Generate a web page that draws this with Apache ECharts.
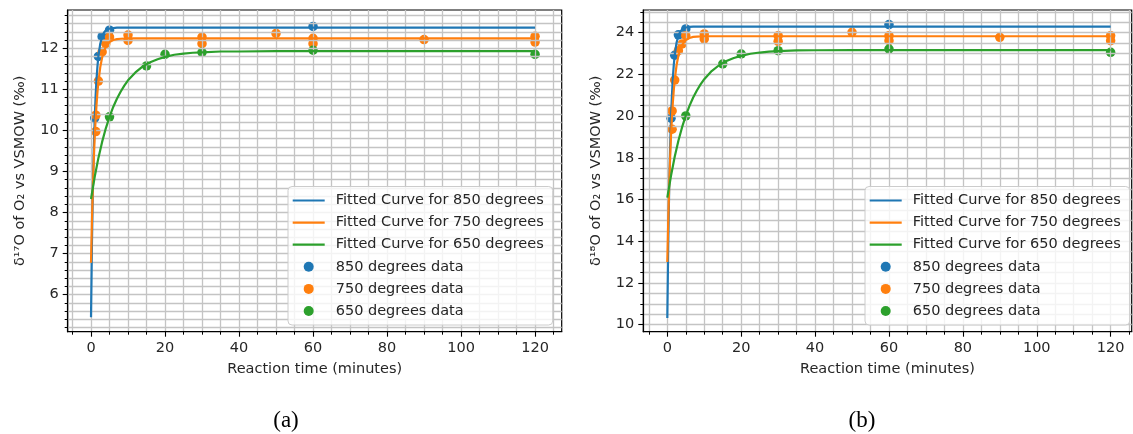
<!DOCTYPE html>
<html>
<head>
<meta charset="utf-8">
<script src="https://cdn.jsdelivr.net/npm/echarts@6/dist/echarts.min.js"></script>
<style>
html,body{margin:0;padding:0;background:#fff;}
#chart{width:1133px;height:434px;}
</style>
</head>
<body>
<div id="chart"></div>
<script>
// ---------- data ----------
const xTicks = [0, 20, 40, 60, 80, 100, 120];
const yTicksA = [6, 7, 8, 9, 10, 11, 12];
const yTicksB = [10, 12, 14, 16, 18, 20, 22, 24];
const names = ['Fitted Curve for 850 degrees', 'Fitted Curve for 750 degrees', 'Fitted Curve for 650 degrees',
               '850 degrees data', '750 degrees data', '650 degrees data'];

// fitted curves: sample times and values
const fitT_fast = [0, 0.25, 0.5, 0.75, 1, 1.25, 1.5, 1.75, 2, 2.5, 3, 3.5, 4, 5, 6, 7, 8, 10, 120];
const fitA_850 = [5.45, 7.23, 8.55, 9.55, 10.29, 10.85, 11.26, 11.57, 11.81, 12.11, 12.28, 12.38, 12.43, 12.48, 12.49, 12.50, 12.50, 12.50, 12.50];
const fitA_750 = [6.78, 7.79, 8.61, 9.29, 9.84, 10.28, 10.64, 10.94, 11.18, 11.54, 11.77, 11.93, 12.03, 12.15, 12.20, 12.22, 12.23, 12.24, 12.24];
const fitB_850 = [10.32, 13.84, 16.47, 18.44, 19.91, 21.01, 21.84, 22.46, 22.92, 23.52, 23.86, 24.05, 24.15, 24.25, 24.28, 24.29, 24.29, 24.29, 24.29];
const fitB_750 = [13.00, 15.00, 16.64, 17.97, 19.06, 19.94, 20.66, 21.25, 21.73, 22.44, 22.90, 23.22, 23.42, 23.65, 23.75, 23.80, 23.81, 23.83, 23.83];
const fitT_slow = [0, 1, 2, 3, 4, 5, 6, 7, 8, 9, 10, 12, 14, 16, 18, 20, 22.5, 25, 27.5, 30, 35, 40, 50, 60, 120];
const fitA_650 = [8.33, 8.87, 9.33, 9.72, 10.05, 10.33, 10.57, 10.77, 10.94, 11.09, 11.22, 11.41, 11.56, 11.66, 11.73, 11.79, 11.84, 11.87, 11.89, 11.90, 11.92, 11.92, 11.93, 11.93, 11.93];
const fitB_650 = [16.09, 17.14, 18.05, 18.82, 19.47, 20.02, 20.49, 20.89, 21.23, 21.52, 21.77, 22.16, 22.44, 22.64, 22.79, 22.89, 22.99, 23.05, 23.09, 23.12, 23.15, 23.16, 23.17, 23.17, 23.17];

// measured data
const t_850 = [1, 2, 3, 5, 60];
const a_850 = [10.30, 11.80, 12.28, 12.44, 12.53];
const b_850 = [19.90, 22.92, 23.90, 24.18, 24.39];
const t_750 = [1.3, 1.3, 2, 3, 4, 5, 10, 10, 30, 30, 50, 60, 60, 90, 120, 120];
const a_750 = [9.97, 10.37, 11.20, 11.91, 12.11, 12.27, 12.32, 12.19, 12.27, 12.11, 12.36, 12.24, 12.11, 12.21, 12.29, 12.15];
const b_750 = [19.37, 20.25, 21.73, 23.14, 23.46, 23.86, 23.94, 23.70, 23.86, 23.59, 24.02, 23.86, 23.62, 23.78, 23.86, 23.62];
const t_650 = [5, 15, 20, 30, 60, 120];
const a_650 = [10.33, 11.57, 11.85, 11.90, 11.95, 11.85];
const b_650 = [20.01, 22.50, 22.98, 23.14, 23.22, 23.06];

// ---------- styling ----------
const colors = ['#1f77b4', '#ff7f0e', '#2ca02c'];
const FONT = 'DejaVu Sans';
const FS = 14.5;
const TXT = '#262626';
const GRIDC = '#c4c4c4';
const zip = (xs, ys) => xs.map((x, i) => [x, ys[i]]);

function xAxisCfg(gi, min, max) {
  return {
    type: 'value', gridIndex: gi, min: min, max: max, splitNumber: 7, z: 2,
    name: 'Reaction time (minutes)', nameLocation: 'middle', nameGap: 30,
    nameTextStyle: {fontSize: FS, color: TXT, fontFamily: FONT},
    axisLine: {show: true, onZero: false, lineStyle: {color: '#000', width: 1.2}},
    axisTick: {show: true, length: 5, customValues: xTicks, lineStyle: {color: '#000', width: 1.1}},
    minorTick: {show: true, splitNumber: 4, length: 3, lineStyle: {color: '#000', width: 1}},
    axisLabel: {show: true, customValues: xTicks, margin: 9, fontSize: FS, color: TXT, fontFamily: FONT},
    splitLine: {show: true, lineStyle: {color: GRIDC, width: 1.3}},
    minorSplitLine: {show: true, lineStyle: {color: GRIDC, width: 1.3}}
  };
}
function yAxisCfg(gi, min, max, ticks, minorSplit, nm) {
  return {
    type: 'value', gridIndex: gi, min: min, max: max, splitNumber: 8, z: 2,
    name: nm, nameLocation: 'middle', nameGap: 40, nameRotate: 90,
    nameTextStyle: {fontSize: FS, color: TXT, fontFamily: FONT},
    axisLine: {show: true, onZero: false, lineStyle: {color: '#000', width: 1.2}},
    axisTick: {show: true, length: 5, customValues: ticks, lineStyle: {color: '#000', width: 1.1}},
    minorTick: {show: true, splitNumber: minorSplit, length: 3, lineStyle: {color: '#000', width: 1}},
    axisLabel: {show: true, customValues: ticks, margin: 9, fontSize: FS, color: TXT, fontFamily: FONT},
    splitLine: {show: true, lineStyle: {color: GRIDC, width: 1.3}},
    minorSplitLine: {show: true, lineStyle: {color: GRIDC, width: 1.3}}
  };
}
function lineSeries(name, gi, xs, ys, c) {
  return {type: 'line', name: name, xAxisIndex: gi, yAxisIndex: gi, data: zip(xs, ys),
          symbol: 'none', showSymbol: false, smooth: false, z: 3,
          color: c, lineStyle: {color: c, width: 2.2, join: 'round'}, animation: false};
}
function scatterSeries(name, gi, xs, ys, c) {
  return {type: 'scatter', name: name, xAxisIndex: gi, yAxisIndex: gi, data: zip(xs, ys),
          symbol: 'circle', symbolSize: 9.5, z: 1, color: c, itemStyle: {color: c, opacity: 1}, animation: false};
}
const linePath = 'path://M0,0H32V2.2H0Z';
function legendCfg(left, top) {
  return {
    left: left, top: top, orient: 'vertical', selectedMode: false,
    itemWidth: 32, itemHeight: 10, itemGap: 6.1,
    backgroundColor: 'rgba(255,255,255,0.8)', borderColor: '#cccccc', borderWidth: 1, borderRadius: 4,
    padding: [6, 9, 6, 4.7], z: 10,
    textStyle: {fontSize: FS, color: TXT, fontFamily: FONT, lineHeight: 16, padding: [0, 0, 0, 6]},
    data: names.map((n, i) => ({name: n, icon: i < 3 ? linePath : 'circle'}))
  };
}

const option = {
  animation: false,
  backgroundColor: '#fff',
  textStyle: {fontFamily: FONT},
  grid: [
    {left: 67.7, top: 10, width: 494, height: 321.7, show: true, borderColor: '#000', borderWidth: 1.2, backgroundColor: 'transparent', containLabel: false},
    {left: 643.3, top: 10, width: 488.4, height: 321.7, show: true, borderColor: '#000', borderWidth: 1.2, backgroundColor: 'transparent', containLabel: false}
  ],
  xAxis: [xAxisCfg(0, -6.3, 127.2), xAxisCfg(1, -6.5, 125.7)],
  yAxis: [
    yAxisCfg(0, 5.1, 12.93, yTicksA, 5, 'δ¹⁷O of O₂ vs VSMOW (‰)'),
    yAxisCfg(1, 9.66, 25.09, yTicksB, 4, 'δ¹⁸O of O₂ vs VSMOW (‰)')
  ],
  legend: [legendCfg(288, 186.5), legendCfg(865, 186.5)],
  series: [
    lineSeries(names[0], 0, fitT_fast, fitA_850, colors[0]),
    lineSeries(names[1], 0, fitT_fast, fitA_750, colors[1]),
    lineSeries(names[2], 0, fitT_slow, fitA_650, colors[2]),
    scatterSeries(names[3], 0, t_850, a_850, colors[0]),
    scatterSeries(names[4], 0, t_750, a_750, colors[1]),
    scatterSeries(names[5], 0, t_650, a_650, colors[2]),
    lineSeries(names[0], 1, fitT_fast, fitB_850, colors[0]),
    lineSeries(names[1], 1, fitT_fast, fitB_750, colors[1]),
    lineSeries(names[2], 1, fitT_slow, fitB_650, colors[2]),
    scatterSeries(names[3], 1, t_850, b_850, colors[0]),
    scatterSeries(names[4], 1, t_750, b_750, colors[1]),
    scatterSeries(names[5], 1, t_650, b_650, colors[2])
  ],
  graphic: [
    {type: 'text', style: {text: '(a)', x: 286, y: 421, align: 'center', verticalAlign: 'middle',
      font: '23px "Liberation Serif", serif', fill: '#000'}},
    {type: 'text', style: {text: '(b)', x: 862, y: 421, align: 'center', verticalAlign: 'middle',
      font: '23px "Liberation Serif", serif', fill: '#000'}}
  ]
};
const chart = echarts.init(document.getElementById('chart'), null, {renderer: 'canvas'});
chart.setOption(option);
</script>
</body>
</html>
